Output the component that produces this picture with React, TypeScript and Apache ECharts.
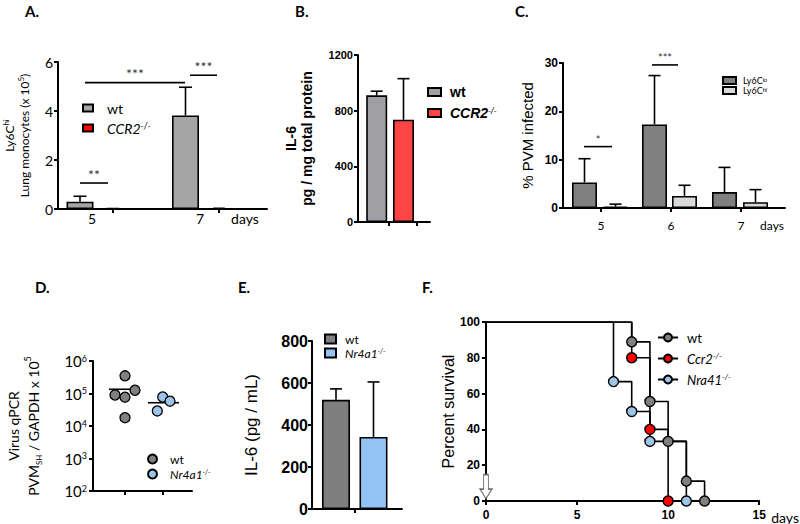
import React, { useEffect, useRef } from "react";
import * as echarts from "echarts";

// ================= DATA =================
// Panel A: Ly6C-hi lung monocytes (x 10^5)
const A_days = ["5", "7"];
const A_wt = [0.3, 3.82];
const A_wtSD = [0.22, 1.15];
const A_ccr2 = [0.03, 0.06];
const A_sigText = ["***", "***", "**"];
const A_sigY = [5.16, 5.46, 1.06];

// Panel B: IL-6 pg / mg total protein
const B_il6 = [910, 735];
const B_il6SD = [30, 295];

// Panel C: % PVM infected
const C_days = ["5", "6", "7"];
const C_lo = [5.3, 17.3, 3.3];
const C_loSD = [4.9, 10.1, 5.1];
const C_hi = [0.3, 2.5, 1.2];
const C_hiSD = [0.5, 2.2, 2.6];
const C_sigText = ["*", "***"];
const C_sigY = [12.7, 29.6];

// Panel D: virus qPCR
const D_wt = [3.5e5, 1.26e5, 9.0e4, 7.7e4, 1.8e4];
const D_nr = [7.8e4, 5.8e4, 2.9e4];
const D_means = [1.35e5, 5.2e4];

// Panel E: IL-6 pg / mL
const E_il6 = [520, 343];
const E_il6SD = [52, 262];

// Panel F: survival
const F_wtDays = [0, 8, 9, 10, 11, 12];
const F_wtSurv = [100, 88.9, 55.6, 33.3, 11.1, 0];
const F_ccrDays = [0, 8, 9, 10];
const F_ccrSurv = [100, 80, 40, 0];
const F_nrDays = [0, 7, 8, 9, 11];
const F_nrSurv = [100, 66.7, 50, 33.3, 0];

// ================= LAYOUT (axis units = px inside each grid) =================
const A_wtX = [22, 127.5];
const A_ccrX = [55, 161];
const A_tickX = [55, 161];
const A_labelX = [34, 142, 187];
const A_sigSpan = [[27, 127], [132, 159], [22, 50]];

const B_x = [18.7, 45.5];
const B_tickX = [31, 59];

const C_loX = [21.5, 91.5, 161.5];
const C_hiX = [52.5, 121.5, 192.5];
const C_tickX = [38, 108, 178];
const C_labelX = [38, 108, 178, 209];
const C_sigSpan = [[21, 49], [89, 115]];

const D_wtX = [32, 42, 22, 32, 32];
const D_nrX = [69.7, 77, 64.3];
const D_tickX = [32, 70];
const D_meanSpan = [[16, 45], [55, 86]];

const E_x = [24, 61.5];
const E_tickX = [43];

const LEGEND_TEXT: Record<string, string> = {
  "A-wt": "{n|wt}",
  "A-ccr2": "{i|CCR2}{s|-/-}",
  "B-wt": "{n|wt}",
  "B-ccr2": "{i|CCR2}{s|-/-}",
  "C-lo": "{n|Ly6C}{s|lo}",
  "C-hi": "{n|Ly6C}{s|hi}",
  "D-wt": "{n|wt}",
  "D-nr": "{i|Nr4a1}{s|-/-}",
  "E-wt": "{n|wt}",
  "E-nr": "{i|Nr4a1}{s|-/-}",
  "F-wt": "{n|wt}",
  "F-ccr2": "{i|Ccr2}{s|-/-}",
  "F-nr": "{i|Nra41}{s|-/-}",
};

const SANS = "Liberation Sans";
const CAL = "Lato";

const axisLine = { show: true, onZero: false, lineStyle: { color: "#000", width: 2 } };
const tick = (extra: any = {}) => ({ show: true, length: 4, lineStyle: { color: "#000", width: 2 }, ...extra });

function rich(fs: number, family: string, weight: string = "normal", gap = 5, lh?: number) {
  const L = lh ?? fs;
  return {
    n: { fontFamily: family, fontSize: fs, fontWeight: weight, color: "#000", padding: [0, 0, 0, gap], lineHeight: L },
    i: { fontFamily: family, fontSize: fs, fontWeight: weight, fontStyle: "italic", color: "#000", padding: [0, 0, 0, gap], lineHeight: L },
    s: { fontFamily: family, fontSize: Math.round(fs * 0.62), fontStyle: "italic", color: "#000", verticalAlign: "top", lineHeight: L },
  };
}

function errorBars(xi: number, yi: number, xs: number[], means: number[], sds: number[], cap: number) {
  return {
    type: "custom",
    xAxisIndex: xi,
    yAxisIndex: yi,
    silent: true,
    z: 4,
    data: xs.map((x, i) => [x, means[i], sds[i]]),
    encode: { x: 0, y: 1 },
    renderItem: (_p: any, api: any) => {
      const x = api.value(0), m = api.value(1), sd = api.value(2);
      const a = api.coord([x, m]);
      const b = api.coord([x, m + sd]);
      const st = { stroke: "#000", lineWidth: 1.6 };
      return {
        type: "group",
        children: [
          { type: "line", shape: { x1: a[0], y1: a[1], x2: b[0], y2: b[1] }, style: st },
          { type: "line", shape: { x1: b[0] - cap, y1: b[1], x2: b[0] + cap, y2: b[1] }, style: st },
        ],
      };
    },
  };
}

function sigBars(xi: number, yi: number, spans: number[][], ys: number[], texts: string[], fs: number, dy: number) {
  return {
    type: "custom",
    xAxisIndex: xi,
    yAxisIndex: yi,
    silent: true,
    z: 4,
    data: spans.map((s, i) => [s[0], s[1], ys[i]]),
    encode: { x: [0, 1], y: 2 },
    renderItem: (p: any, api: any) => {
      const a = api.coord([api.value(0), api.value(2)]);
      const b = api.coord([api.value(1), api.value(2)]);
      return {
        type: "group",
        children: [
          { type: "line", shape: { x1: a[0], y1: a[1], x2: b[0], y2: a[1] }, style: { stroke: "#000", lineWidth: 1.6 } },
          {
            type: "text",
            style: {
              text: texts[p.dataIndex], x: (a[0] + b[0]) / 2, y: a[1] - dy,
              align: "center", verticalAlign: "middle", fontSize: fs, fontFamily: CAL, fill: "#333",
            },
          },
        ],
      };
    },
  };
}

function meanLines(xi: number, yi: number, spans: number[][], ys: number[]) {
  return {
    type: "custom",
    xAxisIndex: xi,
    yAxisIndex: yi,
    silent: true,
    z: 1,
    data: spans.map((s, i) => [s[0], s[1], ys[i]]),
    encode: { x: [0, 1], y: 2 },
    renderItem: (_p: any, api: any) => {
      const a = api.coord([api.value(0), api.value(2)]);
      const b = api.coord([api.value(1), api.value(2)]);
      return { type: "line", shape: { x1: a[0], y1: a[1], x2: b[0], y2: a[1] }, style: { stroke: "#000", lineWidth: 1.6 } };
    },
  };
}

const barStyle = (color: string) => ({ color, borderColor: "#000", borderWidth: 1.6 });
const pts = (xs: number[], ys: number[]) => xs.map((x, i) => [x, ys[i]]);
const kmData = (d: number[], s: number[]) => d.map((x, i) => (i === 0 ? { value: [x, s[i]], symbol: "none" } : [x, s[i]]));
const plain = (v: number) => String(v);

export default function App() {
  const ref = useRef<HTMLDivElement>(null);
  useEffect(() => {
    if (!ref.current) return;
    const chart = echarts.init(ref.current, undefined, { renderer: "svg" });
    const titleStyle = { fontFamily: CAL, fontWeight: "bold", fontSize: 15, color: "#000" };
    const option: any = {
      animation: false,
      backgroundColor: "#fff",
      title: [
        { text: "A.", left: 25, top: 3, padding: 0, textStyle: titleStyle },
        { text: "B.", left: 295, top: 3, padding: 0, textStyle: titleStyle },
        { text: "C.", left: 515, top: 3, padding: 0, textStyle: titleStyle },
        { text: "D.", left: 35, top: 279, padding: 0, textStyle: titleStyle },
        { text: "E.", left: 238, top: 279, padding: 0, textStyle: titleStyle },
        { text: "F.", left: 422, top: 279, padding: 0, textStyle: titleStyle },
      ],
      grid: [
        { left: 58, top: 62, width: 209, height: 147 },
        { left: 358, top: 55, width: 72, height: 167 },
        { left: 563, top: 63, width: 222, height: 145 },
        { left: 93, top: 361, width: 99, height: 130 },
        { left: 312, top: 341, width: 90, height: 168 },
        { left: 486, top: 322, width: 274, height: 181 },
      ],
      xAxis: [
        {
          type: "value", gridIndex: 0, min: 0, max: 209, splitLine: { show: false }, axisLine,
          axisTick: tick({ customValues: A_tickX }),
          axisLabel: {
            customValues: A_labelX, margin: 2, fontFamily: CAL, fontSize: 14, color: "#000",
            formatter: (v: number) => { const i = A_labelX.indexOf(v); return i < 0 ? "" : i < A_days.length ? A_days[i] : "days"; },
          },
        },
        { type: "value", gridIndex: 0, min: 0, max: 209, show: false },
        {
          type: "value", gridIndex: 1, min: 0, max: 72, splitLine: { show: false }, axisLine,
          axisTick: tick({ customValues: B_tickX }), axisLabel: { show: false },
        },
        {
          type: "value", gridIndex: 2, min: 0, max: 222, splitLine: { show: false }, axisLine,
          axisTick: tick({ customValues: C_tickX }),
          axisLabel: {
            customValues: C_labelX, margin: 11, fontFamily: CAL, fontSize: 12, color: "#000",
            formatter: (v: number) => { const i = C_labelX.indexOf(v); return i < 0 ? "" : i < C_days.length ? C_days[i] : "days"; },
          },
        },
        {
          type: "value", gridIndex: 3, min: 0, max: 99, splitLine: { show: false }, axisLine,
          axisTick: tick({ customValues: D_tickX }), axisLabel: { show: false },
        },
        {
          type: "value", gridIndex: 4, min: 0, max: 90, splitLine: { show: false }, axisLine,
          axisTick: tick({ customValues: E_tickX }), axisLabel: { show: false },
        },
        {
          type: "value", gridIndex: 5, min: 0, max: 15, interval: 5, splitLine: { show: false }, axisLine,
          axisTick: tick(), axisLabel: { margin: 8, fontFamily: SANS, fontWeight: "bold", fontSize: 12, color: "#000" },
          name: "days", nameLocation: "end", nameGap: 12,
          nameTextStyle: { fontFamily: CAL, fontSize: 14, color: "#000", verticalAlign: "top", padding: [9, 0, 0, 0] },
        },
      ],
      yAxis: [
        {
          type: "value", gridIndex: 0, min: 0, max: 6, interval: 2, splitLine: { show: false }, axisLine,
          axisTick: tick(), axisLabel: { margin: 5, fontFamily: CAL, fontSize: 14, color: "#000" },
          name: "{a|Ly6C}{s|hi}\n{a|Lung monocytes (x 10}{s|5}{a|)}",
          nameLocation: "middle", nameRotate: 90, nameGap: 26,
          nameTextStyle: {
            rich: {
              a: { fontFamily: CAL, fontSize: 12, color: "#000", lineHeight: 15 },
              s: { fontFamily: CAL, fontSize: 8, color: "#000", verticalAlign: "top", lineHeight: 15 },
            },
          },
        },
        {
          type: "value", gridIndex: 1, min: 0, max: 1200, interval: 400, splitLine: { show: false }, axisLine,
          axisTick: tick(), axisLabel: { margin: 5, fontFamily: SANS, fontWeight: "bold", fontSize: 11, color: "#000", formatter: plain },
          name: "IL-6\npg / mg total protein", nameLocation: "middle", nameRotate: 90, nameGap: 43,
          nameTextStyle: { fontFamily: SANS, fontWeight: "bold", fontSize: 14, color: "#000", lineHeight: 16 },
        },
        {
          type: "value", gridIndex: 2, min: 0, max: 30, interval: 10, splitLine: { show: false }, axisLine,
          axisTick: tick(), axisLabel: { margin: 5, fontFamily: SANS, fontWeight: "bold", fontSize: 12, color: "#000" },
          name: "% PVM infected", nameLocation: "middle", nameRotate: 90, nameGap: 28,
          nameTextStyle: { fontFamily: SANS, fontSize: 15, color: "#000" },
        },
        {
          type: "log", logBase: 10, gridIndex: 3, min: 100, max: 1e6, splitLine: { show: false }, axisLine,
          axisTick: tick(), minorTick: { show: false },
          axisLabel: {
            margin: 6, color: "#000",
            formatter: (v: number) => `{b|10}{s|${Math.round(Math.log10(v))}}`,
            rich: {
              b: { fontFamily: CAL, fontSize: 15, color: "#000" },
              s: { fontFamily: CAL, fontSize: 9, color: "#000", verticalAlign: "top" },
            },
          },
          name: "{a|Virus qPCR}\n{a|PVM}{u|SH}{a| / GAPDH x 10}{s|5}",
          nameLocation: "middle", nameRotate: 90, nameGap: 50,
          nameTextStyle: {
            rich: {
              a: { fontFamily: CAL, fontSize: 14, color: "#000", lineHeight: 20 },
              u: { fontFamily: CAL, fontSize: 8, color: "#000", verticalAlign: "bottom", lineHeight: 20 },
              s: { fontFamily: CAL, fontSize: 9, color: "#000", verticalAlign: "top", lineHeight: 20 },
            },
          },
        },
        {
          type: "value", gridIndex: 4, min: 0, max: 800, interval: 200, splitLine: { show: false }, axisLine,
          axisTick: tick(), axisLabel: { margin: 4, fontFamily: SANS, fontWeight: "bold", fontSize: 16, color: "#000" },
          name: "IL-6 (pg / mL)", nameLocation: "middle", nameRotate: 90, nameGap: 52,
          nameTextStyle: { fontFamily: SANS, fontSize: 17, color: "#000" },
        },
        {
          type: "value", gridIndex: 5, min: 0, max: 100, interval: 20, splitLine: { show: false }, axisLine,
          axisTick: tick(), axisLabel: { margin: 6, fontFamily: SANS, fontWeight: "bold", fontSize: 12, color: "#000" },
          name: "Percent survival", nameLocation: "middle", nameRotate: 90, nameGap: 28,
          nameTextStyle: { fontFamily: SANS, fontSize: 16, color: "#000" },
        },
      ],
      legend: [
        {
          data: ["A-wt", "A-ccr2"], left: 82, top: 101, orient: "vertical", icon: "rect",
          itemWidth: 10, itemHeight: 7, itemGap: 6, padding: 0, selectedMode: false,
          formatter: (n: string) => LEGEND_TEXT[n], textStyle: { rich: rich(14, CAL, "normal", 9) },
        },
        {
          data: ["B-wt", "B-ccr2"], left: 427, top: 85, orient: "vertical", icon: "rect",
          itemWidth: 13, itemHeight: 8, itemGap: 7, padding: 0, selectedMode: false,
          formatter: (n: string) => LEGEND_TEXT[n], textStyle: { rich: rich(14, SANS, "bold", 4) },
        },
        {
          data: ["C-lo", "C-hi"], left: 722, top: 76, orient: "vertical", icon: "rect",
          itemWidth: 13, itemHeight: 7, itemGap: 1, padding: 0, selectedMode: false,
          formatter: (n: string) => LEGEND_TEXT[n], textStyle: { rich: rich(9, CAL, "normal", 2, 9) },
        },
        {
          data: ["D-wt", "D-nr"], left: 147, top: 453, orient: "vertical", icon: "circle",
          itemWidth: 9, itemHeight: 9, itemGap: 3, padding: 0, selectedMode: false,
          formatter: (n: string) => LEGEND_TEXT[n], textStyle: { rich: rich(12, CAL, "normal", 8, 12) },
        },
        {
          data: ["E-wt", "E-nr"], left: 324, top: 333, orient: "vertical", icon: "rect",
          itemWidth: 11, itemHeight: 9, itemGap: 2, padding: 0, selectedMode: false,
          formatter: (n: string) => LEGEND_TEXT[n], textStyle: { rich: rich(12, CAL, "normal", 4, 12) },
        },
        {
          data: ["F-wt", "F-ccr2", "F-nr"], left: 657, top: 331, orient: "vertical",
          itemWidth: 20, itemHeight: 10, itemGap: 8, padding: 0, selectedMode: false,
          formatter: (n: string) => LEGEND_TEXT[n], textStyle: { rich: rich(13, CAL, "normal", 4) },
        },
      ],
      series: [
        // ---- A
        { name: "A-wt", type: "bar", xAxisIndex: 0, yAxisIndex: 0, barWidth: 27, data: pts(A_wtX, A_wt), itemStyle: barStyle("#a5a5a5"), z: 2 },
        { name: "A-ccr2", type: "bar", xAxisIndex: 1, yAxisIndex: 0, barWidth: 13, data: pts(A_ccrX, A_ccr2), itemStyle: barStyle("#ff0000"), z: 2 },
        errorBars(0, 0, A_wtX, A_wt, A_wtSD, 6.5),
        sigBars(0, 0, A_sigSpan, A_sigY, A_sigText, 14, 9),
        // ---- B
        { name: "B-wt", type: "bar", xAxisIndex: 2, yAxisIndex: 1, barWidth: 21, barGap: "-100%", data: [[B_x[0], B_il6[0]]], itemStyle: barStyle("#a0a0a4"), z: 2 },
        { name: "B-ccr2", type: "bar", xAxisIndex: 2, yAxisIndex: 1, barWidth: 21, barGap: "-100%", data: [[B_x[1], B_il6[1]]], itemStyle: barStyle("#ff4444"), z: 2 },
        errorBars(2, 1, B_x, B_il6, B_il6SD, 6),
        // ---- C
        { name: "C-lo", type: "bar", xAxisIndex: 3, yAxisIndex: 2, barWidth: 25, barGap: "-100%", data: pts(C_loX, C_lo), itemStyle: barStyle("#808080"), z: 2 },
        { name: "C-hi", type: "bar", xAxisIndex: 3, yAxisIndex: 2, barWidth: 25, barGap: "-100%", data: pts(C_hiX, C_hi), itemStyle: barStyle("#d9d9d9"), z: 2 },
        errorBars(3, 2, C_loX, C_lo, C_loSD, 6),
        errorBars(3, 2, C_hiX, C_hi, C_hiSD, 6),
        sigBars(3, 2, C_sigSpan, C_sigY, C_sigText, 11, 7),
        // ---- D
        meanLines(4, 3, D_meanSpan, D_means),
        {
          name: "D-wt", type: "scatter", xAxisIndex: 4, yAxisIndex: 3, data: pts(D_wtX, D_wt), symbolSize: 10, z: 3,
          itemStyle: { color: "#808080", borderColor: "#000", borderWidth: 1.3, opacity: 1 },
        },
        {
          name: "D-nr", type: "scatter", xAxisIndex: 4, yAxisIndex: 3, data: pts(D_nrX, D_nr), symbolSize: 10, z: 3,
          itemStyle: { color: "#9dc3e6", borderColor: "#000", borderWidth: 1.3, opacity: 1 },
        },
        // ---- E
        { name: "E-wt", type: "bar", xAxisIndex: 5, yAxisIndex: 4, barWidth: 28, barGap: "-100%", data: [[E_x[0], E_il6[0]]], itemStyle: barStyle("#7f7f7f"), z: 2 },
        { name: "E-nr", type: "bar", xAxisIndex: 5, yAxisIndex: 4, barWidth: 28, barGap: "-100%", data: [[E_x[1], E_il6[1]]], itemStyle: barStyle("#94c4f5"), z: 2 },
        errorBars(5, 4, E_x, E_il6, E_il6SD, 6),
        // ---- F
        {
          name: "F-wt", type: "line", xAxisIndex: 6, yAxisIndex: 5, step: "end", data: kmData(F_wtDays, F_wtSurv),
          symbol: "circle", symbolSize: 10, lineStyle: { color: "#000", width: 1.6 },
          itemStyle: { color: "#808080", borderColor: "#000", borderWidth: 1.4 }, z: 3,
          markPoint: {
            silent: true,
            symbol: "path://M3,0 L7,0 L7,12 L10,12 L5,20 L0,12 L3,12 Z",
            symbolSize: [12, 24],
            itemStyle: { color: "#fff", borderColor: "#6e6e6e", borderWidth: 1.2 },
            label: { show: false },
            data: [{ coord: [0, 8] }],
          },
        },
        {
          name: "F-ccr2", type: "line", xAxisIndex: 6, yAxisIndex: 5, step: "end", data: kmData(F_ccrDays, F_ccrSurv),
          symbol: "circle", symbolSize: 10, lineStyle: { color: "#000", width: 1.6 },
          itemStyle: { color: "#ff0000", borderColor: "#000", borderWidth: 1.4 }, z: 3,
        },
        {
          name: "F-nr", type: "line", xAxisIndex: 6, yAxisIndex: 5, step: "end", data: kmData(F_nrDays, F_nrSurv),
          symbol: "circle", symbolSize: 10, lineStyle: { color: "#000", width: 1.6 },
          itemStyle: { color: "#9dc3e6", borderColor: "#000", borderWidth: 1.4 }, z: 3,
        },
      ],
    };
    chart.setOption(option);
    return () => chart.dispose();
  }, []);
  return <div ref={ref} style={{ position: "fixed", left: 0, top: 0, width: 800, height: 524, background: "#fff" }} />;
}
